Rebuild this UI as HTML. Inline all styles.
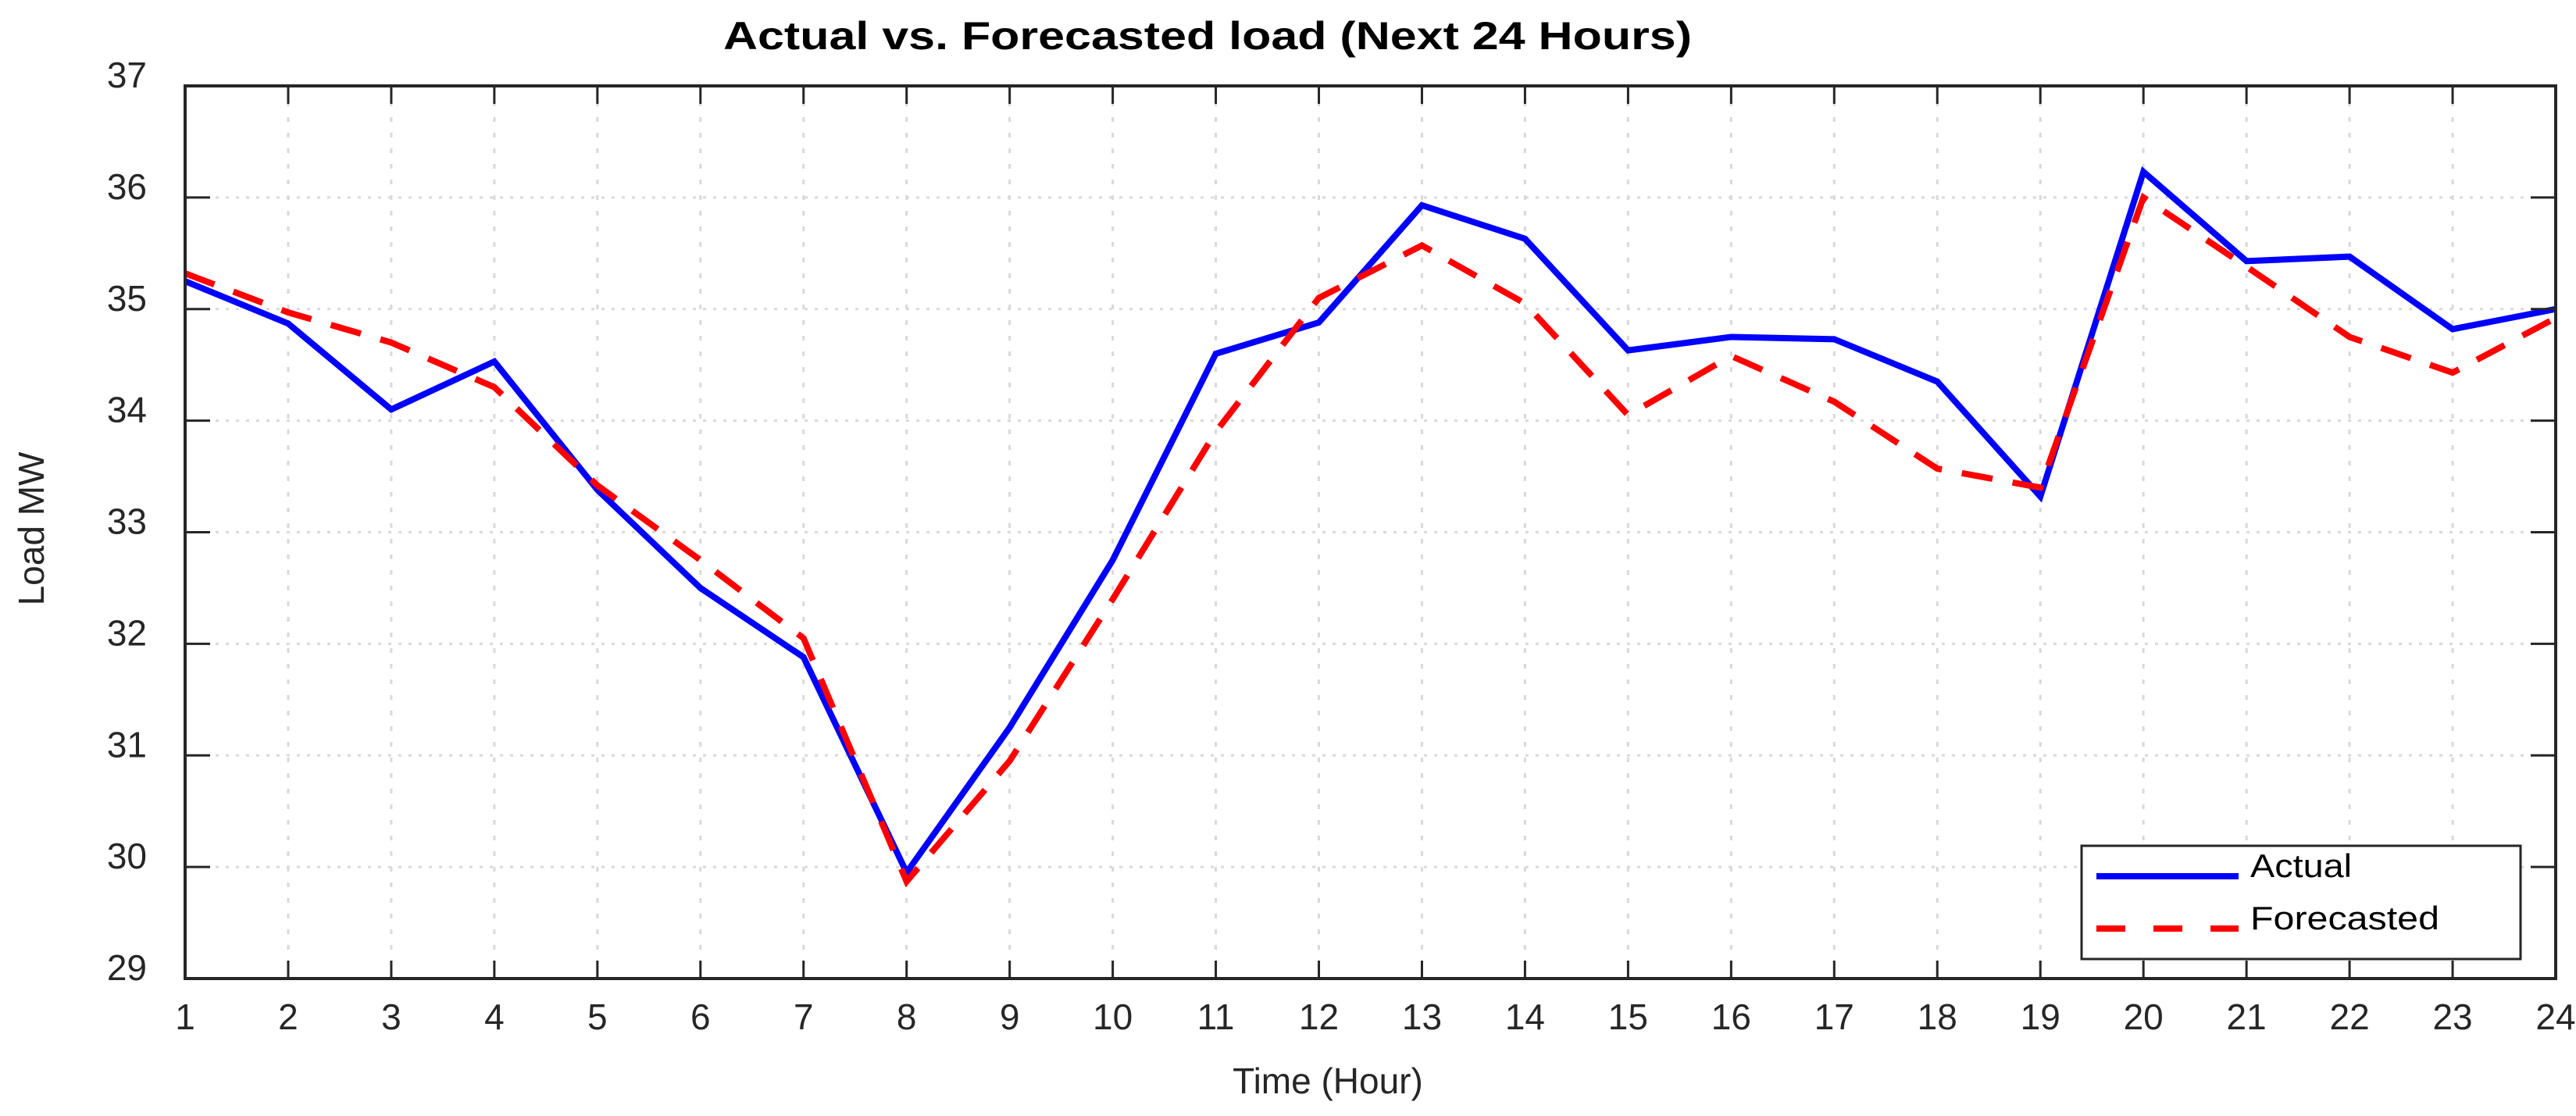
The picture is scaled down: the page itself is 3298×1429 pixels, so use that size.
<!DOCTYPE html>
<html><head><meta charset="utf-8"><style>
html,body{margin:0;padding:0;background:#fff}
svg{display:block;font-family:"Liberation Sans",Arial,sans-serif}
</style></head><body>
<svg id="chart" width="3298" height="1429" viewBox="0 0 3298 1429">
<rect x="0" y="0" width="3298" height="1429" fill="#fff"/>
<g id="grid"></g>
<g id="series"></g>
<g id="axes"></g>
<text x="1546" y="63" text-anchor="middle" font-size="50" font-weight="bold" textLength="1240" lengthAdjust="spacingAndGlyphs">Actual vs. Forecasted load  (Next 24 Hours)</text>
<text x="1700" y="1400" text-anchor="middle" font-size="46" fill="#262626">Time (Hour)</text>
<text transform="translate(56,677) rotate(-90)" text-anchor="middle" font-size="46" fill="#262626">Load MW</text>
<g>
<rect x="2665" y="1083" width="562" height="145" fill="#fff" stroke="#262626" stroke-width="3"/>
<line x1="2684" y1="1122" x2="2866" y2="1122" stroke="#0000ff" stroke-width="8"/>
<text x="2881" y="1123" font-size="42" textLength="130" lengthAdjust="spacingAndGlyphs">Actual</text>
<line x1="2684" y1="1189" x2="2866" y2="1189" stroke="#ff0000" stroke-width="8" stroke-dasharray="37,36"/>
<text x="2881" y="1190" font-size="42" textLength="242" lengthAdjust="spacingAndGlyphs">Forecasted</text>
</g>
</svg>
<script>
const hours = [1,2,3,4,5,6,7,8,9,10,11,12,13,14,15,16,17,18,19,20,21,22,23,24];
const actual = [35.25,34.87,34.1,34.53,33.38,32.5,31.88,29.95,31.25,32.75,34.6,34.88,35.93,35.63,34.63,34.75,34.73,34.35,33.32,36.23,35.43,35.47,34.82,35.0];
const forecast = [35.32,34.97,34.7,34.3,33.42,32.75,32.05,29.87,30.95,32.4,33.9,35.1,35.57,35.05,34.05,34.58,34.17,33.57,33.4,36.0,35.38,34.75,34.43,34.92];
const yTicks = [29,30,31,32,33,34,35,36,37];
const xTicks = [1,2,3,4,5,6,7,8,9,10,11,12,13,14,15,16,17,18,19,20,21,22,23,24];

const L=237,R=3272,T=110,B=1253;
const xMin=1,xMax=24,yMin=29,yMax=37;
function xs(v){return L+(v-xMin)/(xMax-xMin)*(R-L);}
function ys(v){return B-(v-yMin)/(yMax-yMin)*(B-T);}
const NS="http://www.w3.org/2000/svg";
function mk(tag,attrs,parent){const e=document.createElementNS(NS,tag);for(const k in attrs)e.setAttribute(k,attrs[k]);parent.appendChild(e);return e;}
const grid=document.getElementById('grid'),axes=document.getElementById('axes'),series=document.getElementById('series');

xTicks.forEach(v=>{
  const g=mk('line',{x1:xs(v),y1:T,x2:xs(v),y2:B,stroke:'#d9d9d9','stroke-width':3,'stroke-dasharray':'6,14'},grid);
  
  
  const t1=mk('line',{x1:xs(v),y1:B,x2:xs(v),y2:B-23,stroke:'#262626','stroke-width':3},axes);
  
  
  const t2=mk('line',{x1:xs(v),y1:T,x2:xs(v),y2:T+23,stroke:'#262626','stroke-width':3},axes);
  
  
  const lb=mk('text',{x:xs(v),y:1318,'text-anchor':'middle','font-size':46,fill:'#262626'},axes);
  lb.textContent=v;
  
  
});
yTicks.forEach(v=>{
  const g=mk('line',{x1:L,y1:ys(v),x2:R,y2:ys(v),stroke:'#d9d9d9','stroke-width':3,'stroke-dasharray':'4,9'},grid);
  
  
  const t1=mk('line',{x1:L,y1:ys(v),x2:L+32,y2:ys(v),stroke:'#262626','stroke-width':3},axes);
  
  
  const t2=mk('line',{x1:R,y1:ys(v),x2:R-32,y2:ys(v),stroke:'#262626','stroke-width':3},axes);
  
  
  const lb=mk('text',{x:188,y:ys(v)+2,'text-anchor':'end','font-size':46,fill:'#262626'},axes);
  lb.textContent=v;
  
  
});
const frame=mk('rect',{x:L,y:T,width:R-L,height:B-T,fill:'none',stroke:'#262626','stroke-width':4},axes);



const pa=mk('polyline',{points:hours.map((h,i)=>xs(h)+','+ys(actual[i])).join(' '),fill:'none',stroke:'#0000ff','stroke-width':8,'stroke-linejoin':'miter'},series);


const pf=mk('polyline',{points:hours.map((h,i)=>xs(h)+','+ys(forecast[i])).join(' '),fill:'none',stroke:'#ff0000','stroke-width':8,'stroke-dasharray':'40,26'},series);


</script>
</body></html>
